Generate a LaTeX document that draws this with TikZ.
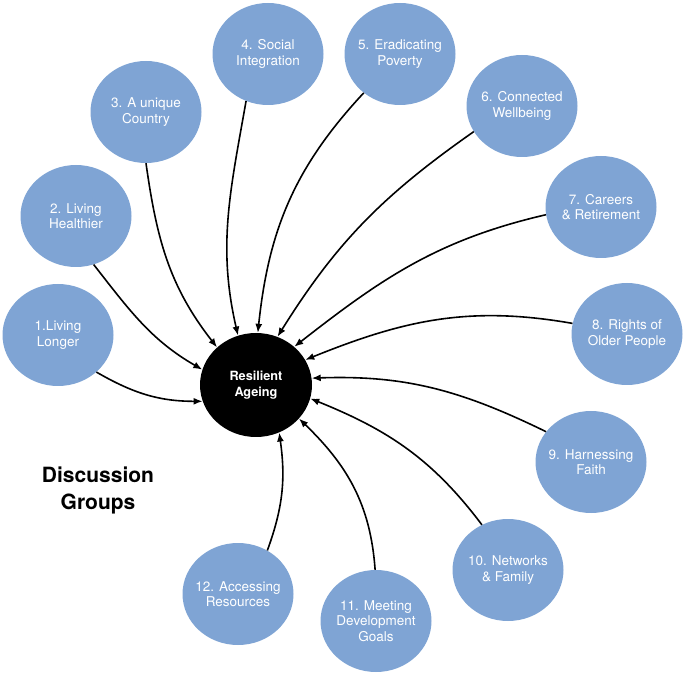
\documentclass[tikz,border=0pt]{standalone}
\usepackage{fontspec}
\setmainfont{TeX Gyre Heros}
\usetikzlibrary{shapes.geometric,arrows.meta}
\definecolor{blob}{RGB}{127,164,212}
\begin{document}
\begin{tikzpicture}[x=1pt,y=1pt,
  grp/.style={ellipse, fill=blob, minimum width=111pt, minimum height=102pt, inner sep=0pt},
  grptxt/.style={text=white, align=center, inner sep=0pt, font=\fontsize{13.5}{15.5}\selectfont},
  hub/.style={ellipse, fill=black, minimum width=112pt, minimum height=104pt, inner sep=0pt, text=white, align=center, font=\bfseries\fontsize{12.7}{16}\selectfont},
  link/.style={line width=1.6pt, -{Latex[length=9pt,width=7pt]}}]
\useasboundingbox (0,0) rectangle (685,675);

\node[hub] (ra) at (256,290) {Resilient\\Ageing};

\node[grp, label={[grptxt]center:{1.Living\\Longer}}] (c1) at (58,340) {};
\node[grp, label={[grptxt]center:{2. Living\\Healthier}}] (c2) at (76,459) {};
\node[grp, label={[grptxt]center:{3. A unique\\Country}}] (c3) at (146,563) {};
\node[grp, label={[grptxt]center:{4. Social\\Integration}}] (c4) at (268,621) {};
\node[grp, label={[grptxt]center:{5. Eradicating\\Poverty}}] (c5) at (400,621) {};
\node[grp, label={[grptxt]center:{6. Connected\\Wellbeing}}] (c6) at (522,569) {};
\node[grp, label={[grptxt]center:{7. Careers\\\& Retirement}}] (c7) at (601,468) {};
\node[grp, label={[grptxt]center:{8. Rights of\\Older People}}] (c8) at (627,341) {};
\node[grp, label={[grptxt]center:{9. Harnessing\\Faith}}] (c9) at (591,213) {};
\node[grp, label={[grptxt]center:{10. Networks\\\& Family}}] (c10) at (508,105) {};
\node[grp, label={[grptxt]center:{11. Meeting\\Development\\Goals}}] (c11) at (376,54) {};
\node[grp, label={[grptxt]center:{12. Accessing\\Resources}}] (c12) at (238,81) {};

\node[font=\bfseries\fontsize{21}{27}\selectfont, align=center] (dg) at (98,185) {Discussion\\Groups};

\draw[link] (c1.-44) to[out=-30,in=180] (ra.197);
\draw[link] (c2.-70) to[out=-52,in=150] (ra.164);
\draw[link] (c3.-90) to[out=-82,in=128] (ra.136);
\draw[link] (c4.-115) to[out=-100,in=103] (ra.110);
\draw[link] (c5.-133) to[out=-133,in=84] (ra.88);
\draw[link] (c6.-152) to[out=-145,in=58] (ra.66);
\draw[link] (c7.-172) to[out=-167,in=38] (ra.45);
\draw[link] (c8.169) to[out=170,in=22] (ra.27);
\draw[link] (c9.146) to[out=154,in=2] (ra.7);
\draw[link] (c10.120) to[out=127,in=-22] (ra.-14);
\draw[link] (c11.91) to[out=94,in=-44] (ra.-38);
\draw[link] (c12.56) to[out=70,in=-82] (ra.-64);
\end{tikzpicture}
\end{document}
